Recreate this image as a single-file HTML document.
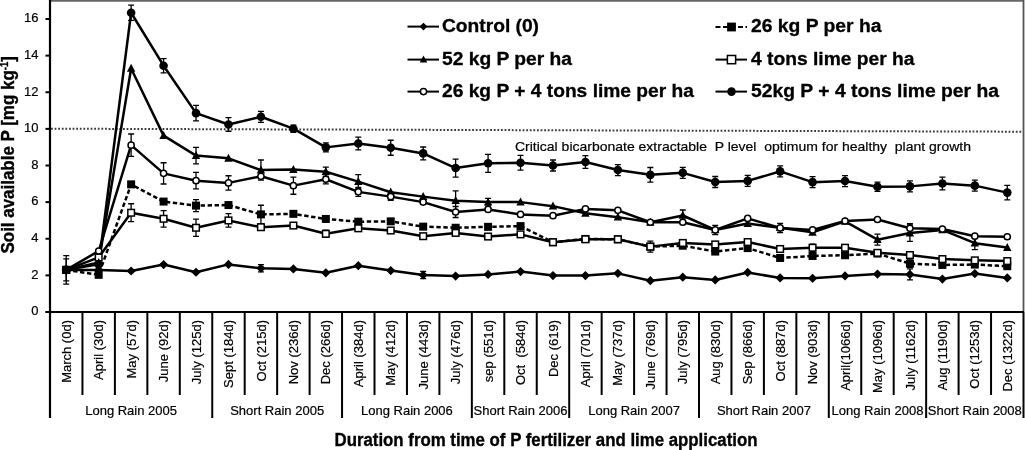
<!DOCTYPE html>
<html><head><meta charset="utf-8"><style>
html,body{margin:0;padding:0;background:#fff;}
svg{display:block;will-change:transform;}
.t13{font-family:"Liberation Sans",sans-serif;font-size:13px;fill:#000;stroke:#000;stroke-width:0.2px;}
.tb16{font-family:"Liberation Sans",sans-serif;font-size:17.5px;font-weight:bold;fill:#000;stroke:#000;stroke-width:0.35px;}
.tb17{font-family:"Liberation Sans",sans-serif;font-size:18px;font-weight:bold;fill:#000;stroke:#000;stroke-width:0.3px;}
</style></head><body>
<svg width="1025" height="450" viewBox="0 0 1025 450">
<rect x="0" y="0" width="1025" height="450" fill="#fff"/>
<path d="M49 0.9H1023.5" stroke="#666" stroke-width="1.8"/>
<path d="M1023.5 0V312" stroke="#555" stroke-width="1.8"/>
<path d="M51 128.7L1022 131.7" stroke="#3a3a3a" stroke-width="2" stroke-dasharray="1.8,1.8"/>
<path d="M50 0V418" stroke="#000" stroke-width="2.2"/>
<path d="M45.5 312H1024" stroke="#000" stroke-width="2.2"/>
<path d="M45.5 312H50" stroke="#000" stroke-width="2"/>
<text x="38.5" y="315.3" text-anchor="end" class="t13">0</text>
<path d="M45.5 275.38H50" stroke="#000" stroke-width="2"/>
<text x="38.5" y="278.68" text-anchor="end" class="t13">2</text>
<path d="M45.5 238.75H50" stroke="#000" stroke-width="2"/>
<text x="38.5" y="242.05" text-anchor="end" class="t13">4</text>
<path d="M45.5 202.12H50" stroke="#000" stroke-width="2"/>
<text x="38.5" y="205.43" text-anchor="end" class="t13">6</text>
<path d="M45.5 165.5H50" stroke="#000" stroke-width="2"/>
<text x="38.5" y="168.8" text-anchor="end" class="t13">8</text>
<path d="M45.5 128.88H50" stroke="#000" stroke-width="2"/>
<text x="38.5" y="132.18" text-anchor="end" class="t13">10</text>
<path d="M45.5 92.25H50" stroke="#000" stroke-width="2"/>
<text x="38.5" y="95.55" text-anchor="end" class="t13">12</text>
<path d="M45.5 55.62H50" stroke="#000" stroke-width="2"/>
<text x="38.5" y="58.92" text-anchor="end" class="t13">14</text>
<path d="M45.5 19H50" stroke="#000" stroke-width="2"/>
<text x="38.5" y="22.3" text-anchor="end" class="t13">16</text>
<path d="M82.45 312V395" stroke="#000" stroke-width="2"/>
<path d="M114.9 312V395" stroke="#000" stroke-width="2"/>
<path d="M147.35 312V395" stroke="#000" stroke-width="2"/>
<path d="M179.8 312V395" stroke="#000" stroke-width="2"/>
<path d="M212.25 312V418" stroke="#000" stroke-width="2"/>
<path d="M244.7 312V395" stroke="#000" stroke-width="2"/>
<path d="M277.15 312V395" stroke="#000" stroke-width="2"/>
<path d="M309.6 312V395" stroke="#000" stroke-width="2"/>
<path d="M342.05 312V418" stroke="#000" stroke-width="2"/>
<path d="M374.5 312V395" stroke="#000" stroke-width="2"/>
<path d="M406.95 312V395" stroke="#000" stroke-width="2"/>
<path d="M439.4 312V395" stroke="#000" stroke-width="2"/>
<path d="M471.85 312V418" stroke="#000" stroke-width="2"/>
<path d="M504.3 312V395" stroke="#000" stroke-width="2"/>
<path d="M536.75 312V395" stroke="#000" stroke-width="2"/>
<path d="M569.2 312V418" stroke="#000" stroke-width="2"/>
<path d="M601.65 312V395" stroke="#000" stroke-width="2"/>
<path d="M634.1 312V395" stroke="#000" stroke-width="2"/>
<path d="M666.55 312V395" stroke="#000" stroke-width="2"/>
<path d="M699 312V418" stroke="#000" stroke-width="2"/>
<path d="M731.45 312V395" stroke="#000" stroke-width="2"/>
<path d="M763.9 312V395" stroke="#000" stroke-width="2"/>
<path d="M796.35 312V395" stroke="#000" stroke-width="2"/>
<path d="M828.8 312V418" stroke="#000" stroke-width="2"/>
<path d="M861.25 312V395" stroke="#000" stroke-width="2"/>
<path d="M893.7 312V395" stroke="#000" stroke-width="2"/>
<path d="M926.15 312V418" stroke="#000" stroke-width="2"/>
<path d="M958.6 312V395" stroke="#000" stroke-width="2"/>
<path d="M991.05 312V395" stroke="#000" stroke-width="2"/>
<path d="M1023.5 312V418" stroke="#000" stroke-width="2"/>
<text transform="translate(70.82 320) rotate(-90)" text-anchor="end" class="t13" xml:space="preserve">March (0d)</text>
<text transform="translate(103.28 320) rotate(-90)" text-anchor="end" class="t13" xml:space="preserve">April (30d)</text>
<text transform="translate(135.72 320) rotate(-90)" text-anchor="end" class="t13" xml:space="preserve">May (57d)</text>
<text transform="translate(168.18 320) rotate(-90)" text-anchor="end" class="t13" xml:space="preserve">June (92d)</text>
<text transform="translate(200.62 320) rotate(-90)" text-anchor="end" class="t13" xml:space="preserve">July (125d)</text>
<text transform="translate(233.08 320) rotate(-90)" text-anchor="end" class="t13" xml:space="preserve">Sept (184d)</text>
<text transform="translate(265.53 320) rotate(-90)" text-anchor="end" class="t13" xml:space="preserve">Oct (215d)</text>
<text transform="translate(297.98 320) rotate(-90)" text-anchor="end" class="t13" xml:space="preserve">Nov (236d)</text>
<text transform="translate(330.43 320) rotate(-90)" text-anchor="end" class="t13" xml:space="preserve">Dec (266d)</text>
<text transform="translate(362.88 320) rotate(-90)" text-anchor="end" class="t13" xml:space="preserve">April (384d)</text>
<text transform="translate(395.33 320) rotate(-90)" text-anchor="end" class="t13" xml:space="preserve">May (412d)</text>
<text transform="translate(427.78 320) rotate(-90)" text-anchor="end" class="t13" xml:space="preserve">June (443d)</text>
<text transform="translate(460.23 320) rotate(-90)" text-anchor="end" class="t13" xml:space="preserve">July (476d)</text>
<text transform="translate(492.68 320) rotate(-90)" text-anchor="end" class="t13" xml:space="preserve">sep (551d)</text>
<text transform="translate(525.13 320) rotate(-90)" text-anchor="end" class="t13" xml:space="preserve">Oct  (584d)</text>
<text transform="translate(557.58 320) rotate(-90)" text-anchor="end" class="t13" xml:space="preserve">Dec (619)</text>
<text transform="translate(590.03 320) rotate(-90)" text-anchor="end" class="t13" xml:space="preserve">April (701d)</text>
<text transform="translate(622.48 320) rotate(-90)" text-anchor="end" class="t13" xml:space="preserve">May (737d)</text>
<text transform="translate(654.93 320) rotate(-90)" text-anchor="end" class="t13" xml:space="preserve">June (769d)</text>
<text transform="translate(687.38 320) rotate(-90)" text-anchor="end" class="t13" xml:space="preserve">July (795d)</text>
<text transform="translate(719.83 320) rotate(-90)" text-anchor="end" class="t13" xml:space="preserve">Aug (830d)</text>
<text transform="translate(752.28 320) rotate(-90)" text-anchor="end" class="t13" xml:space="preserve">Sep (866d)</text>
<text transform="translate(784.73 320) rotate(-90)" text-anchor="end" class="t13" xml:space="preserve">Oct (887d)</text>
<text transform="translate(817.18 320) rotate(-90)" text-anchor="end" class="t13" xml:space="preserve">Nov (903d)</text>
<text transform="translate(849.63 320) rotate(-90)" text-anchor="end" class="t13" xml:space="preserve">April(1066d)</text>
<text transform="translate(882.08 320) rotate(-90)" text-anchor="end" class="t13" xml:space="preserve">May (1096d)</text>
<text transform="translate(914.53 320) rotate(-90)" text-anchor="end" class="t13" xml:space="preserve">July (1162d)</text>
<text transform="translate(946.98 320) rotate(-90)" text-anchor="end" class="t13" xml:space="preserve">Aug (1190d)</text>
<text transform="translate(979.43 320) rotate(-90)" text-anchor="end" class="t13" xml:space="preserve">Oct (1253d)</text>
<text transform="translate(1011.88 320) rotate(-90)" text-anchor="end" class="t13" xml:space="preserve">Dec (1322d)</text>
<text x="131.12" y="415" text-anchor="middle" class="t13">Long Rain 2005</text>
<text x="277.15" y="415" text-anchor="middle" class="t13">Short Rain 2005</text>
<text x="406.95" y="415" text-anchor="middle" class="t13">Long Rain 2006</text>
<text x="520.53" y="415" text-anchor="middle" class="t13">Short Rain 2006</text>
<text x="634.1" y="415" text-anchor="middle" class="t13">Long Rain 2007</text>
<text x="763.9" y="415" text-anchor="middle" class="t13">Short Rain 2007</text>
<text x="877.48" y="415" text-anchor="middle" class="t13">Long Rain 2008</text>
<text x="974.83" y="415" text-anchor="middle" class="t13">Short Rain 2008</text>
<text x="334.5" y="446.2" class="tb16" textLength="423" lengthAdjust="spacingAndGlyphs">Duration from time of P fertilizer and lime application</text>
<text transform="translate(14 253.5) rotate(-90)" class="tb16" textLength="197.5" lengthAdjust="spacingAndGlyphs">Soil available P [mg kg<tspan dy="-6" font-size="10">-1</tspan><tspan dy="6">]</tspan></text>
<text x="515" y="151.3" class="t13" font-size="14" xml:space="preserve" textLength="456" lengthAdjust="spacingAndGlyphs">Critical bicarbonate extractable  P level  optimum for healthy  plant growth</text>
<polyline points="66.22,269.88 98.68,269.88 131.12,270.98 163.58,264.57 196.03,272.26 228.48,264.39 260.93,268.23 293.38,268.97 325.83,272.81 358.28,265.67 390.73,270.61 423.18,275.01 455.63,276.11 488.08,274.46 520.53,271.53 552.98,275.56 585.43,275.56 617.88,273.36 650.33,280.69 682.78,277.21 715.23,279.95 747.68,272.44 780.13,277.94 812.58,278.31 845.03,275.92 877.48,274.09 909.93,274.46 942.38,279.04 974.83,273.54 1007.28,277.94" fill="none" stroke="#000" stroke-width="2.5" stroke-linejoin="round"/>
<polyline points="66.22,269.88 98.68,274.83 131.12,184.36 163.58,201.58 196.03,205.6 228.48,205.06 260.93,214.39 293.38,213.84 325.83,218.97 358.28,221.72 390.73,221.35 423.18,226.66 455.63,227.76 488.08,226.85 520.53,226.11 552.98,242.23 585.43,238.93 617.88,239.3 650.33,246.62 682.78,245.71 715.23,251.57 747.68,248.09 780.13,257.98 812.58,255.96 845.03,255.23 877.48,253.58 909.93,263.65 942.38,264.94 974.83,264.57 1007.28,266.22" fill="none" stroke="#000" stroke-width="2.5" stroke-dasharray="4.4,2.6" stroke-linejoin="round"/>
<polyline points="66.22,269.88 98.68,257.43 131.12,212.75 163.58,218.79 196.03,227.76 228.48,220.44 260.93,227.21 293.38,225.56 325.83,233.81 358.28,228.31 390.73,230.51 423.18,236.19 455.63,232.89 488.08,236.55 520.53,234.35 552.98,242.23 585.43,239.3 617.88,239.3 650.33,246.62 682.78,242.96 715.23,244.43 747.68,242.05 780.13,249 812.58,247.72 845.03,247.72 877.48,252.85 909.93,255.05 942.38,259.08 974.83,260.36 1007.28,261.09" fill="none" stroke="#000" stroke-width="2.5" stroke-linejoin="round"/>
<polyline points="66.22,269.88 98.68,262.56 131.12,68.44 163.58,135.65 196.03,155.61 228.48,158.36 260.93,170.08 293.38,169.53 325.83,171.73 358.28,181.62 390.73,192.24 423.18,196.63 455.63,200.66 488.08,202.12 520.53,202.12 552.98,206.15 585.43,213.3 617.88,217.14 650.33,222.27 682.78,215.49 715.23,229.96 747.68,223.55 780.13,227.76 812.58,232.34 845.03,221.35 877.48,239.67 909.93,233.07 942.38,229.96 974.83,243.15 1007.28,247.54" fill="none" stroke="#000" stroke-width="2.5" stroke-linejoin="round"/>
<polyline points="66.22,269.88 98.68,251.02 131.12,145.17 163.58,173.37 196.03,180.7 228.48,182.9 260.93,176.3 293.38,185.64 325.83,179.23 358.28,191.87 390.73,196.63 423.18,202.12 455.63,212.01 488.08,209.45 520.53,214.39 552.98,215.68 585.43,208.9 617.88,210.37 650.33,222.27 682.78,222.27 715.23,229.96 747.68,218.42 780.13,227.95 812.58,229.96 845.03,220.99 877.48,219.52 909.93,228.31 942.38,229.04 974.83,236.19 1007.28,236.74" fill="none" stroke="#000" stroke-width="2.5" stroke-linejoin="round"/>
<polyline points="66.22,269.88 98.68,264.39 131.12,12.77 163.58,65.7 196.03,113.13 228.48,124.48 260.93,116.79 293.38,128.69 325.83,147.37 358.28,143.53 390.73,147.74 423.18,153.41 455.63,168.06 488.08,163.3 520.53,162.75 552.98,165.5 585.43,162.02 617.88,170.08 650.33,174.84 682.78,172.83 715.23,181.98 747.68,180.88 780.13,171.36 812.58,182.16 845.03,181.07 877.48,186.74 909.93,186.38 942.38,183.45 974.83,185.64 1007.28,192.6" fill="none" stroke="#000" stroke-width="2.5" stroke-linejoin="round"/>
<path d="M260.93 264.57V271.9M257.93 264.57h6M257.93 271.9h6" stroke="#000" stroke-width="1.3" fill="none"/>
<path d="M423.18 271.35V278.67M420.18 271.35h6M420.18 278.67h6" stroke="#000" stroke-width="1.3" fill="none"/>
<path d="M909.93 268.97V279.95M906.93 268.97h6M906.93 279.95h6" stroke="#000" stroke-width="1.3" fill="none"/>
<path d="M196.03 199.56V211.65M193.03 199.56h6M193.03 211.65h6" stroke="#000" stroke-width="1.3" fill="none"/>
<path d="M260.93 205.24V223.55M257.93 205.24h6M257.93 223.55h6" stroke="#000" stroke-width="1.3" fill="none"/>
<path d="M909.93 259.99V267.32M906.93 259.99h6M906.93 267.32h6" stroke="#000" stroke-width="1.3" fill="none"/>
<path d="M131.12 203.77V221.72M128.12 203.77h6M128.12 221.72h6" stroke="#000" stroke-width="1.3" fill="none"/>
<path d="M163.58 210.55V227.03M160.58 210.55h6M160.58 227.03h6" stroke="#000" stroke-width="1.3" fill="none"/>
<path d="M196.03 219.16V236.37M193.03 219.16h6M193.03 236.37h6" stroke="#000" stroke-width="1.3" fill="none"/>
<path d="M228.48 213.66V227.21M225.48 213.66h6M225.48 227.21h6" stroke="#000" stroke-width="1.3" fill="none"/>
<path d="M325.83 230.14V237.47M322.83 230.14h6M322.83 237.47h6" stroke="#000" stroke-width="1.3" fill="none"/>
<path d="M650.33 241.13V252.12M647.33 241.13h6M647.33 252.12h6" stroke="#000" stroke-width="1.3" fill="none"/>
<path d="M812.58 244.06V251.39M809.58 244.06h6M809.58 251.39h6" stroke="#000" stroke-width="1.3" fill="none"/>
<path d="M196.03 147.37V163.85M193.03 147.37h6M193.03 163.85h6" stroke="#000" stroke-width="1.3" fill="none"/>
<path d="M260.93 160.01V180.15M257.93 160.01h6M257.93 180.15h6" stroke="#000" stroke-width="1.3" fill="none"/>
<path d="M325.83 167.15V176.3M322.83 167.15h6M322.83 176.3h6" stroke="#000" stroke-width="1.3" fill="none"/>
<path d="M358.28 174.66V188.57M355.28 174.66h6M355.28 188.57h6" stroke="#000" stroke-width="1.3" fill="none"/>
<path d="M455.63 190.95V210.37M452.63 190.95h6M452.63 210.37h6" stroke="#000" stroke-width="1.3" fill="none"/>
<path d="M488.08 198.46V205.79M485.08 198.46h6M485.08 205.79h6" stroke="#000" stroke-width="1.3" fill="none"/>
<path d="M682.78 210V220.99M679.78 210h6M679.78 220.99h6" stroke="#000" stroke-width="1.3" fill="none"/>
<path d="M877.48 234.17V245.16M874.48 234.17h6M874.48 245.16h6" stroke="#000" stroke-width="1.3" fill="none"/>
<path d="M909.93 224.83V241.31M906.93 224.83h6M906.93 241.31h6" stroke="#000" stroke-width="1.3" fill="none"/>
<path d="M974.83 236.74V249.55M971.83 236.74h6M971.83 249.55h6" stroke="#000" stroke-width="1.3" fill="none"/>
<path d="M131.12 134V156.34M128.12 134h6M128.12 156.34h6" stroke="#000" stroke-width="1.3" fill="none"/>
<path d="M163.58 162.75V184M160.58 162.75h6M160.58 184h6" stroke="#000" stroke-width="1.3" fill="none"/>
<path d="M196.03 172.46V188.94M193.03 172.46h6M193.03 188.94h6" stroke="#000" stroke-width="1.3" fill="none"/>
<path d="M228.48 175.75V190.04M225.48 175.75h6M225.48 190.04h6" stroke="#000" stroke-width="1.3" fill="none"/>
<path d="M293.38 177.04V194.25M290.38 177.04h6M290.38 194.25h6" stroke="#000" stroke-width="1.3" fill="none"/>
<path d="M325.83 174.66V183.81M322.83 174.66h6M322.83 183.81h6" stroke="#000" stroke-width="1.3" fill="none"/>
<path d="M358.28 187.29V196.45M355.28 187.29h6M355.28 196.45h6" stroke="#000" stroke-width="1.3" fill="none"/>
<path d="M390.73 192.97V200.29M387.73 192.97h6M387.73 200.29h6" stroke="#000" stroke-width="1.3" fill="none"/>
<path d="M455.63 206.52V217.51M452.63 206.52h6M452.63 217.51h6" stroke="#000" stroke-width="1.3" fill="none"/>
<path d="M715.23 225.38V234.54M712.23 225.38h6M712.23 234.54h6" stroke="#000" stroke-width="1.3" fill="none"/>
<path d="M780.13 223.37V232.52M777.13 223.37h6M777.13 232.52h6" stroke="#000" stroke-width="1.3" fill="none"/>
<path d="M909.93 223.73V232.89M906.93 223.73h6M906.93 232.89h6" stroke="#000" stroke-width="1.3" fill="none"/>
<path d="M131.12 5.08V20.46M128.12 5.08h6M128.12 20.46h6" stroke="#000" stroke-width="1.3" fill="none"/>
<path d="M163.58 58.56V72.84M160.58 58.56h6M160.58 72.84h6" stroke="#000" stroke-width="1.3" fill="none"/>
<path d="M196.03 105.44V120.82M193.03 105.44h6M193.03 120.82h6" stroke="#000" stroke-width="1.3" fill="none"/>
<path d="M228.48 117.7V131.26M225.48 117.7h6M225.48 131.26h6" stroke="#000" stroke-width="1.3" fill="none"/>
<path d="M260.93 111.29V122.28M257.93 111.29h6M257.93 122.28h6" stroke="#000" stroke-width="1.3" fill="none"/>
<path d="M293.38 125.03V132.35M290.38 125.03h6M290.38 132.35h6" stroke="#000" stroke-width="1.3" fill="none"/>
<path d="M325.83 142.79V151.95M322.83 142.79h6M322.83 151.95h6" stroke="#000" stroke-width="1.3" fill="none"/>
<path d="M358.28 137.12V149.93M355.28 137.12h6M355.28 149.93h6" stroke="#000" stroke-width="1.3" fill="none"/>
<path d="M390.73 140.23V155.25M387.73 140.23h6M387.73 155.25h6" stroke="#000" stroke-width="1.3" fill="none"/>
<path d="M423.18 147V159.82M420.18 147h6M420.18 159.82h6" stroke="#000" stroke-width="1.3" fill="none"/>
<path d="M455.63 159.09V177.04M452.63 159.09h6M452.63 177.04h6" stroke="#000" stroke-width="1.3" fill="none"/>
<path d="M488.08 154.33V172.28M485.08 154.33h6M485.08 172.28h6" stroke="#000" stroke-width="1.3" fill="none"/>
<path d="M520.53 155.43V170.08M517.53 155.43h6M517.53 170.08h6" stroke="#000" stroke-width="1.3" fill="none"/>
<path d="M552.98 160.01V170.99M549.98 160.01h6M549.98 170.99h6" stroke="#000" stroke-width="1.3" fill="none"/>
<path d="M585.43 155.61V168.43M582.43 155.61h6M582.43 168.43h6" stroke="#000" stroke-width="1.3" fill="none"/>
<path d="M617.88 164.58V175.57M614.88 164.58h6M614.88 175.57h6" stroke="#000" stroke-width="1.3" fill="none"/>
<path d="M650.33 167.51V182.16M647.33 167.51h6M647.33 182.16h6" stroke="#000" stroke-width="1.3" fill="none"/>
<path d="M682.78 167.33V178.32M679.78 167.33h6M679.78 178.32h6" stroke="#000" stroke-width="1.3" fill="none"/>
<path d="M715.23 176.49V187.48M712.23 176.49h6M712.23 187.48h6" stroke="#000" stroke-width="1.3" fill="none"/>
<path d="M747.68 175.39V186.38M744.68 175.39h6M744.68 186.38h6" stroke="#000" stroke-width="1.3" fill="none"/>
<path d="M780.13 165.87V176.85M777.13 165.87h6M777.13 176.85h6" stroke="#000" stroke-width="1.3" fill="none"/>
<path d="M812.58 176.67V187.66M809.58 176.67h6M809.58 187.66h6" stroke="#000" stroke-width="1.3" fill="none"/>
<path d="M845.03 175.57V186.56M842.03 175.57h6M842.03 186.56h6" stroke="#000" stroke-width="1.3" fill="none"/>
<path d="M877.48 182.16V191.32M874.48 182.16h6M874.48 191.32h6" stroke="#000" stroke-width="1.3" fill="none"/>
<path d="M909.93 180.88V191.87M906.93 180.88h6M906.93 191.87h6" stroke="#000" stroke-width="1.3" fill="none"/>
<path d="M942.38 177.04V189.86M939.38 177.04h6M939.38 189.86h6" stroke="#000" stroke-width="1.3" fill="none"/>
<path d="M974.83 180.15V191.14M971.83 180.15h6M971.83 191.14h6" stroke="#000" stroke-width="1.3" fill="none"/>
<path d="M1007.28 185.28V199.93M1004.28 185.28h6M1004.28 199.93h6" stroke="#000" stroke-width="1.3" fill="none"/>
<path d="M66.22 255.6V284.17M63.22 255.6h6M63.22 284.17h6" stroke="#000" stroke-width="1.3" fill="none"/>
<path d="M66.22 258.89V280.87M63.22 258.89h6M63.22 280.87h6" stroke="#000" stroke-width="1.3" fill="none"/>
<path d="M66.22 265.28L70.82 269.88L66.22 274.48L61.62 269.88Z" fill="#000"/>
<path d="M98.68 265.28L103.28 269.88L98.68 274.48L94.08 269.88Z" fill="#000"/>
<path d="M131.12 266.38L135.72 270.98L131.12 275.58L126.53 270.98Z" fill="#000"/>
<path d="M163.58 259.97L168.18 264.57L163.58 269.17L158.98 264.57Z" fill="#000"/>
<path d="M196.03 267.66L200.62 272.26L196.03 276.86L191.43 272.26Z" fill="#000"/>
<path d="M228.48 259.79L233.08 264.39L228.48 268.99L223.88 264.39Z" fill="#000"/>
<path d="M260.93 263.63L265.53 268.23L260.93 272.83L256.32 268.23Z" fill="#000"/>
<path d="M293.38 264.37L297.98 268.97L293.38 273.57L288.77 268.97Z" fill="#000"/>
<path d="M325.83 268.21L330.43 272.81L325.83 277.41L321.23 272.81Z" fill="#000"/>
<path d="M358.28 261.07L362.88 265.67L358.28 270.27L353.68 265.67Z" fill="#000"/>
<path d="M390.73 266.01L395.33 270.61L390.73 275.21L386.12 270.61Z" fill="#000"/>
<path d="M423.18 270.41L427.78 275.01L423.18 279.61L418.57 275.01Z" fill="#000"/>
<path d="M455.63 271.51L460.23 276.11L455.63 280.71L451.03 276.11Z" fill="#000"/>
<path d="M488.08 269.86L492.68 274.46L488.08 279.06L483.48 274.46Z" fill="#000"/>
<path d="M520.53 266.93L525.13 271.53L520.53 276.13L515.93 271.53Z" fill="#000"/>
<path d="M552.98 270.96L557.58 275.56L552.98 280.16L548.38 275.56Z" fill="#000"/>
<path d="M585.43 270.96L590.03 275.56L585.43 280.16L580.83 275.56Z" fill="#000"/>
<path d="M617.88 268.76L622.48 273.36L617.88 277.96L613.27 273.36Z" fill="#000"/>
<path d="M650.33 276.09L654.93 280.69L650.33 285.29L645.73 280.69Z" fill="#000"/>
<path d="M682.78 272.61L687.38 277.21L682.78 281.81L678.18 277.21Z" fill="#000"/>
<path d="M715.23 275.35L719.83 279.95L715.23 284.55L710.62 279.95Z" fill="#000"/>
<path d="M747.68 267.84L752.28 272.44L747.68 277.05L743.08 272.44Z" fill="#000"/>
<path d="M780.13 273.34L784.73 277.94L780.13 282.54L775.53 277.94Z" fill="#000"/>
<path d="M812.58 273.7L817.18 278.31L812.58 282.91L807.98 278.31Z" fill="#000"/>
<path d="M845.03 271.32L849.63 275.92L845.03 280.52L840.43 275.92Z" fill="#000"/>
<path d="M877.48 269.49L882.08 274.09L877.48 278.69L872.88 274.09Z" fill="#000"/>
<path d="M909.93 269.86L914.53 274.46L909.93 279.06L905.33 274.46Z" fill="#000"/>
<path d="M942.38 274.44L946.98 279.04L942.38 283.64L937.78 279.04Z" fill="#000"/>
<path d="M974.83 268.94L979.43 273.54L974.83 278.14L970.23 273.54Z" fill="#000"/>
<path d="M1007.28 273.34L1011.88 277.94L1007.28 282.54L1002.68 277.94Z" fill="#000"/>
<rect x="62.22" y="265.88" width="8" height="8" fill="#000"/>
<rect x="94.68" y="270.83" width="8" height="8" fill="#000"/>
<rect x="127.12" y="180.36" width="8" height="8" fill="#000"/>
<rect x="159.58" y="197.58" width="8" height="8" fill="#000"/>
<rect x="192.03" y="201.6" width="8" height="8" fill="#000"/>
<rect x="224.48" y="201.06" width="8" height="8" fill="#000"/>
<rect x="256.93" y="210.39" width="8" height="8" fill="#000"/>
<rect x="289.38" y="209.84" width="8" height="8" fill="#000"/>
<rect x="321.83" y="214.97" width="8" height="8" fill="#000"/>
<rect x="354.28" y="217.72" width="8" height="8" fill="#000"/>
<rect x="386.73" y="217.35" width="8" height="8" fill="#000"/>
<rect x="419.18" y="222.66" width="8" height="8" fill="#000"/>
<rect x="451.63" y="223.76" width="8" height="8" fill="#000"/>
<rect x="484.08" y="222.85" width="8" height="8" fill="#000"/>
<rect x="516.53" y="222.11" width="8" height="8" fill="#000"/>
<rect x="548.98" y="238.23" width="8" height="8" fill="#000"/>
<rect x="581.43" y="234.93" width="8" height="8" fill="#000"/>
<rect x="613.88" y="235.3" width="8" height="8" fill="#000"/>
<rect x="646.33" y="242.62" width="8" height="8" fill="#000"/>
<rect x="678.78" y="241.71" width="8" height="8" fill="#000"/>
<rect x="711.23" y="247.57" width="8" height="8" fill="#000"/>
<rect x="743.68" y="244.09" width="8" height="8" fill="#000"/>
<rect x="776.13" y="253.98" width="8" height="8" fill="#000"/>
<rect x="808.58" y="251.96" width="8" height="8" fill="#000"/>
<rect x="841.03" y="251.23" width="8" height="8" fill="#000"/>
<rect x="873.48" y="249.58" width="8" height="8" fill="#000"/>
<rect x="905.93" y="259.65" width="8" height="8" fill="#000"/>
<rect x="938.38" y="260.94" width="8" height="8" fill="#000"/>
<rect x="970.83" y="260.57" width="8" height="8" fill="#000"/>
<rect x="1003.28" y="262.22" width="8" height="8" fill="#000"/>
<rect x="62.92" y="266.58" width="6.6" height="6.6" fill="#fff" stroke="#000" stroke-width="1.5"/>
<rect x="95.38" y="254.13" width="6.6" height="6.6" fill="#fff" stroke="#000" stroke-width="1.5"/>
<rect x="127.83" y="209.45" width="6.6" height="6.6" fill="#fff" stroke="#000" stroke-width="1.5"/>
<rect x="160.28" y="215.49" width="6.6" height="6.6" fill="#fff" stroke="#000" stroke-width="1.5"/>
<rect x="192.72" y="224.46" width="6.6" height="6.6" fill="#fff" stroke="#000" stroke-width="1.5"/>
<rect x="225.18" y="217.14" width="6.6" height="6.6" fill="#fff" stroke="#000" stroke-width="1.5"/>
<rect x="257.62" y="223.91" width="6.6" height="6.6" fill="#fff" stroke="#000" stroke-width="1.5"/>
<rect x="290.07" y="222.26" width="6.6" height="6.6" fill="#fff" stroke="#000" stroke-width="1.5"/>
<rect x="322.53" y="230.51" width="6.6" height="6.6" fill="#fff" stroke="#000" stroke-width="1.5"/>
<rect x="354.98" y="225.01" width="6.6" height="6.6" fill="#fff" stroke="#000" stroke-width="1.5"/>
<rect x="387.43" y="227.21" width="6.6" height="6.6" fill="#fff" stroke="#000" stroke-width="1.5"/>
<rect x="419.88" y="232.89" width="6.6" height="6.6" fill="#fff" stroke="#000" stroke-width="1.5"/>
<rect x="452.33" y="229.59" width="6.6" height="6.6" fill="#fff" stroke="#000" stroke-width="1.5"/>
<rect x="484.78" y="233.25" width="6.6" height="6.6" fill="#fff" stroke="#000" stroke-width="1.5"/>
<rect x="517.23" y="231.05" width="6.6" height="6.6" fill="#fff" stroke="#000" stroke-width="1.5"/>
<rect x="549.68" y="238.93" width="6.6" height="6.6" fill="#fff" stroke="#000" stroke-width="1.5"/>
<rect x="582.13" y="236" width="6.6" height="6.6" fill="#fff" stroke="#000" stroke-width="1.5"/>
<rect x="614.58" y="236" width="6.6" height="6.6" fill="#fff" stroke="#000" stroke-width="1.5"/>
<rect x="647.03" y="243.32" width="6.6" height="6.6" fill="#fff" stroke="#000" stroke-width="1.5"/>
<rect x="679.48" y="239.66" width="6.6" height="6.6" fill="#fff" stroke="#000" stroke-width="1.5"/>
<rect x="711.93" y="241.13" width="6.6" height="6.6" fill="#fff" stroke="#000" stroke-width="1.5"/>
<rect x="744.38" y="238.75" width="6.6" height="6.6" fill="#fff" stroke="#000" stroke-width="1.5"/>
<rect x="776.83" y="245.7" width="6.6" height="6.6" fill="#fff" stroke="#000" stroke-width="1.5"/>
<rect x="809.28" y="244.42" width="6.6" height="6.6" fill="#fff" stroke="#000" stroke-width="1.5"/>
<rect x="841.73" y="244.42" width="6.6" height="6.6" fill="#fff" stroke="#000" stroke-width="1.5"/>
<rect x="874.18" y="249.55" width="6.6" height="6.6" fill="#fff" stroke="#000" stroke-width="1.5"/>
<rect x="906.63" y="251.75" width="6.6" height="6.6" fill="#fff" stroke="#000" stroke-width="1.5"/>
<rect x="939.08" y="255.78" width="6.6" height="6.6" fill="#fff" stroke="#000" stroke-width="1.5"/>
<rect x="971.53" y="257.06" width="6.6" height="6.6" fill="#fff" stroke="#000" stroke-width="1.5"/>
<rect x="1003.98" y="257.79" width="6.6" height="6.6" fill="#fff" stroke="#000" stroke-width="1.5"/>
<path d="M66.22 265.26L70.42 273.24L62.02 273.24Z" fill="#000"/>
<path d="M98.68 257.94L102.88 265.92L94.48 265.92Z" fill="#000"/>
<path d="M131.12 63.82L135.32 71.8L126.92 71.8Z" fill="#000"/>
<path d="M163.58 131.03L167.78 139.01L159.38 139.01Z" fill="#000"/>
<path d="M196.03 150.99L200.22 158.97L191.83 158.97Z" fill="#000"/>
<path d="M228.48 153.74L232.68 161.72L224.28 161.72Z" fill="#000"/>
<path d="M260.93 165.46L265.12 173.44L256.73 173.44Z" fill="#000"/>
<path d="M293.38 164.91L297.57 172.89L289.18 172.89Z" fill="#000"/>
<path d="M325.83 167.11L330.03 175.09L321.63 175.09Z" fill="#000"/>
<path d="M358.28 177L362.48 184.98L354.08 184.98Z" fill="#000"/>
<path d="M390.73 187.62L394.93 195.6L386.53 195.6Z" fill="#000"/>
<path d="M423.18 192.01L427.38 199.99L418.98 199.99Z" fill="#000"/>
<path d="M455.63 196.04L459.83 204.02L451.43 204.02Z" fill="#000"/>
<path d="M488.08 197.5L492.28 205.49L483.88 205.49Z" fill="#000"/>
<path d="M520.53 197.5L524.73 205.49L516.33 205.49Z" fill="#000"/>
<path d="M552.98 201.53L557.18 209.51L548.77 209.51Z" fill="#000"/>
<path d="M585.43 208.68L589.63 216.66L581.23 216.66Z" fill="#000"/>
<path d="M617.88 212.52L622.08 220.5L613.67 220.5Z" fill="#000"/>
<path d="M650.33 217.65L654.53 225.63L646.12 225.63Z" fill="#000"/>
<path d="M682.78 210.87L686.98 218.85L678.58 218.85Z" fill="#000"/>
<path d="M715.23 225.34L719.43 233.32L711.02 233.32Z" fill="#000"/>
<path d="M747.68 218.93L751.88 226.91L743.48 226.91Z" fill="#000"/>
<path d="M780.13 223.14L784.33 231.12L775.93 231.12Z" fill="#000"/>
<path d="M812.58 227.72L816.78 235.7L808.38 235.7Z" fill="#000"/>
<path d="M845.03 216.73L849.23 224.71L840.83 224.71Z" fill="#000"/>
<path d="M877.48 235.05L881.68 243.03L873.27 243.03Z" fill="#000"/>
<path d="M909.93 228.45L914.13 236.43L905.73 236.43Z" fill="#000"/>
<path d="M942.38 225.34L946.58 233.32L938.18 233.32Z" fill="#000"/>
<path d="M974.83 238.53L979.03 246.51L970.62 246.51Z" fill="#000"/>
<path d="M1007.28 242.92L1011.48 250.9L1003.08 250.9Z" fill="#000"/>
<circle cx="66.22" cy="269.88" r="3.1" fill="#fff" stroke="#000" stroke-width="1.5"/>
<circle cx="98.68" cy="251.02" r="3.1" fill="#fff" stroke="#000" stroke-width="1.5"/>
<circle cx="131.12" cy="145.17" r="3.1" fill="#fff" stroke="#000" stroke-width="1.5"/>
<circle cx="163.58" cy="173.37" r="3.1" fill="#fff" stroke="#000" stroke-width="1.5"/>
<circle cx="196.03" cy="180.7" r="3.1" fill="#fff" stroke="#000" stroke-width="1.5"/>
<circle cx="228.48" cy="182.9" r="3.1" fill="#fff" stroke="#000" stroke-width="1.5"/>
<circle cx="260.93" cy="176.3" r="3.1" fill="#fff" stroke="#000" stroke-width="1.5"/>
<circle cx="293.38" cy="185.64" r="3.1" fill="#fff" stroke="#000" stroke-width="1.5"/>
<circle cx="325.83" cy="179.23" r="3.1" fill="#fff" stroke="#000" stroke-width="1.5"/>
<circle cx="358.28" cy="191.87" r="3.1" fill="#fff" stroke="#000" stroke-width="1.5"/>
<circle cx="390.73" cy="196.63" r="3.1" fill="#fff" stroke="#000" stroke-width="1.5"/>
<circle cx="423.18" cy="202.12" r="3.1" fill="#fff" stroke="#000" stroke-width="1.5"/>
<circle cx="455.63" cy="212.01" r="3.1" fill="#fff" stroke="#000" stroke-width="1.5"/>
<circle cx="488.08" cy="209.45" r="3.1" fill="#fff" stroke="#000" stroke-width="1.5"/>
<circle cx="520.53" cy="214.39" r="3.1" fill="#fff" stroke="#000" stroke-width="1.5"/>
<circle cx="552.98" cy="215.68" r="3.1" fill="#fff" stroke="#000" stroke-width="1.5"/>
<circle cx="585.43" cy="208.9" r="3.1" fill="#fff" stroke="#000" stroke-width="1.5"/>
<circle cx="617.88" cy="210.37" r="3.1" fill="#fff" stroke="#000" stroke-width="1.5"/>
<circle cx="650.33" cy="222.27" r="3.1" fill="#fff" stroke="#000" stroke-width="1.5"/>
<circle cx="682.78" cy="222.27" r="3.1" fill="#fff" stroke="#000" stroke-width="1.5"/>
<circle cx="715.23" cy="229.96" r="3.1" fill="#fff" stroke="#000" stroke-width="1.5"/>
<circle cx="747.68" cy="218.42" r="3.1" fill="#fff" stroke="#000" stroke-width="1.5"/>
<circle cx="780.13" cy="227.95" r="3.1" fill="#fff" stroke="#000" stroke-width="1.5"/>
<circle cx="812.58" cy="229.96" r="3.1" fill="#fff" stroke="#000" stroke-width="1.5"/>
<circle cx="845.03" cy="220.99" r="3.1" fill="#fff" stroke="#000" stroke-width="1.5"/>
<circle cx="877.48" cy="219.52" r="3.1" fill="#fff" stroke="#000" stroke-width="1.5"/>
<circle cx="909.93" cy="228.31" r="3.1" fill="#fff" stroke="#000" stroke-width="1.5"/>
<circle cx="942.38" cy="229.04" r="3.1" fill="#fff" stroke="#000" stroke-width="1.5"/>
<circle cx="974.83" cy="236.19" r="3.1" fill="#fff" stroke="#000" stroke-width="1.5"/>
<circle cx="1007.28" cy="236.74" r="3.1" fill="#fff" stroke="#000" stroke-width="1.5"/>
<circle cx="66.22" cy="269.88" r="4.3" fill="#000"/>
<circle cx="98.68" cy="264.39" r="4.3" fill="#000"/>
<circle cx="131.12" cy="12.77" r="4.3" fill="#000"/>
<circle cx="163.58" cy="65.7" r="4.3" fill="#000"/>
<circle cx="196.03" cy="113.13" r="4.3" fill="#000"/>
<circle cx="228.48" cy="124.48" r="4.3" fill="#000"/>
<circle cx="260.93" cy="116.79" r="4.3" fill="#000"/>
<circle cx="293.38" cy="128.69" r="4.3" fill="#000"/>
<circle cx="325.83" cy="147.37" r="4.3" fill="#000"/>
<circle cx="358.28" cy="143.53" r="4.3" fill="#000"/>
<circle cx="390.73" cy="147.74" r="4.3" fill="#000"/>
<circle cx="423.18" cy="153.41" r="4.3" fill="#000"/>
<circle cx="455.63" cy="168.06" r="4.3" fill="#000"/>
<circle cx="488.08" cy="163.3" r="4.3" fill="#000"/>
<circle cx="520.53" cy="162.75" r="4.3" fill="#000"/>
<circle cx="552.98" cy="165.5" r="4.3" fill="#000"/>
<circle cx="585.43" cy="162.02" r="4.3" fill="#000"/>
<circle cx="617.88" cy="170.08" r="4.3" fill="#000"/>
<circle cx="650.33" cy="174.84" r="4.3" fill="#000"/>
<circle cx="682.78" cy="172.83" r="4.3" fill="#000"/>
<circle cx="715.23" cy="181.98" r="4.3" fill="#000"/>
<circle cx="747.68" cy="180.88" r="4.3" fill="#000"/>
<circle cx="780.13" cy="171.36" r="4.3" fill="#000"/>
<circle cx="812.58" cy="182.16" r="4.3" fill="#000"/>
<circle cx="845.03" cy="181.07" r="4.3" fill="#000"/>
<circle cx="877.48" cy="186.74" r="4.3" fill="#000"/>
<circle cx="909.93" cy="186.38" r="4.3" fill="#000"/>
<circle cx="942.38" cy="183.45" r="4.3" fill="#000"/>
<circle cx="974.83" cy="185.64" r="4.3" fill="#000"/>
<circle cx="1007.28" cy="192.6" r="4.3" fill="#000"/>
<path d="M407.5 26.6H439" stroke="#000" stroke-width="2"/>
<path d="M423.5 22.69L427.41 26.6L423.5 30.51L419.59 26.6Z" fill="#000"/>
<text x="442" y="32.1" class="tb17" xml:space="preserve" textLength="97" lengthAdjust="spacingAndGlyphs">Control (0)</text>
<path d="M407.5 59.6H439" stroke="#000" stroke-width="2"/>
<path d="M423.5 55.44L427.28 62.62L419.72 62.62Z" fill="#000"/>
<text x="442" y="64.8" class="tb17" xml:space="preserve" textLength="130" lengthAdjust="spacingAndGlyphs">52 kg P per ha</text>
<path d="M407.5 91.6H439" stroke="#000" stroke-width="2"/>
<circle cx="423.5" cy="91.6" r="3.1" fill="#fff" stroke="#000" stroke-width="1.5"/>
<text x="442" y="96.9" class="tb17" xml:space="preserve" textLength="252" lengthAdjust="spacingAndGlyphs">26 kg P + 4 tons lime per ha</text>
<path d="M715.5 27H747" stroke="#000" stroke-width="2" stroke-dasharray="5,2.5"/>
<rect x="727.1" y="22.6" width="8.8" height="8.8" fill="#000"/>
<text x="751" y="32.1" class="tb17" xml:space="preserve" textLength="130.5" lengthAdjust="spacingAndGlyphs">26 kg P per ha</text>
<path d="M715.5 59.6H747" stroke="#000" stroke-width="2"/>
<rect x="727.38" y="55.48" width="8.25" height="8.25" fill="#fff" stroke="#000" stroke-width="1.5"/>
<text x="751" y="64.8" class="tb17" xml:space="preserve" textLength="163.5" lengthAdjust="spacingAndGlyphs">4 tons lime per ha</text>
<path d="M715.5 91.6H747" stroke="#000" stroke-width="2"/>
<circle cx="731.5" cy="91.6" r="4.3" fill="#000"/>
<text x="751" y="96.9" class="tb17" xml:space="preserve" textLength="248" lengthAdjust="spacingAndGlyphs">52kg P + 4 tons lime per ha</text>
</svg>
</body></html>
